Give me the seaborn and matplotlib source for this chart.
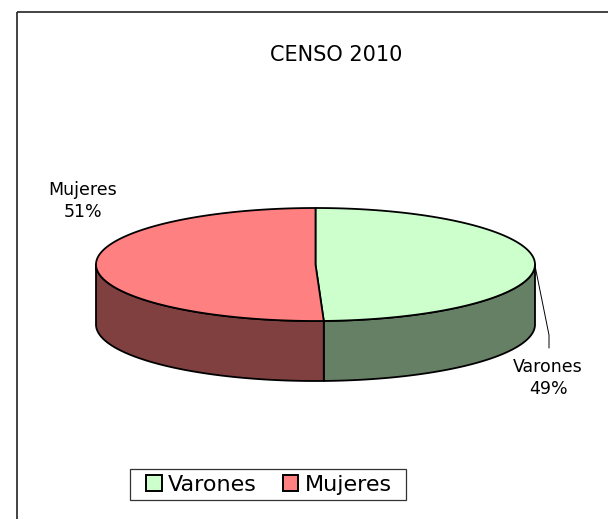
import numpy as np
import matplotlib
matplotlib.use("Agg")
import matplotlib.pyplot as plt
from matplotlib.patches import Polygon, Rectangle, Patch
import seaborn as sns

# datos del grafico
titulo = "CENSO 2010"
categorias = ["Varones", "Mujeres"]
valores = [49.4, 50.6]
colores_tapa = ["#CCFFCC", "#FF8080"]
colores_lado = ["#668066", "#804040"]

sns.set_theme(style="white")
plt.rcParams["font.family"] = ["DejaVu Sans"]
plt.rcParams["text.color"] = "black"

W, H = 608, 519
fig = plt.figure(figsize=(W / 100, H / 100), dpi=100)
ax = fig.add_axes([0, 0, 1, 1])
ax.set_xlim(0, W)
ax.set_ylim(H, 0)
ax.axis("off")

# marco del area del grafico
ax.add_patch(Rectangle((17, 12), W, H, fill=False, edgecolor="#222222", lw=1.2))

# geometria de la torta 3D
cx, cy, a, b, prof = 315.5, 264.5, 219.5, 56.5, 60


def punto(theta, dy=0.0):
    t = np.radians(theta)
    return cx + a * np.cos(t), cy - b * np.sin(t) + dy


total = sum(valores)
inicio = 90.0
porciones = []
for v in valores:
    fin = inicio - 360.0 * v / total
    porciones.append((inicio, fin))
    inicio = fin

# caras laterales (solo la mitad frontal es visible)
for (t1, t2), col in zip(porciones, colores_lado):
    for k in (-360, 0, 360):
        lo, hi = max(t2, -180 + k), min(t1, k)
        if hi <= lo:
            continue
        ang = np.linspace(hi, lo, 120)
        arriba = [punto(t) for t in ang]
        abajo = [punto(t, prof) for t in ang[::-1]]
        ax.add_patch(Polygon(arriba + abajo, closed=True, facecolor=col,
                             edgecolor="black", lw=1.3, joinstyle="round"))

# tapas
for (t1, t2), col in zip(porciones, colores_tapa):
    ang = np.linspace(t1, t2, 200)
    pts = [(cx, cy)] + [punto(t) for t in ang]
    ax.add_patch(Polygon(pts, closed=True, facecolor=col,
                         edgecolor="black", lw=1.3, joinstyle="round"))

# titulo
ax.text(336, 55, titulo, ha="center", va="center", fontsize=15)

# etiquetas de datos
pct = [f"{round(v / total * 100)}%" for v in valores]
ax.text(83, 201, f"{categorias[1]}\n{pct[1]}", ha="center", va="center",
        fontsize=12.5, linespacing=1.25)
ax.text(548, 378, f"{categorias[0]}\n{pct[0]}", ha="center", va="center",
        fontsize=12.5, linespacing=1.25)

# linea guia de Varones
x0, y0 = punto(-1)
ax.plot([x0, 549, 549], [y0, 335, 348], color="black", lw=0.7)

# leyenda (marco dibujado aparte)
ax.add_patch(Rectangle((130, 469), 276, 31, fill=False, edgecolor="#333333", lw=0.9))
handles = [Patch(facecolor=c, edgecolor="black", lw=1.4) for c in colores_tapa]
leg = fig.legend(handles, categorias, loc="center", bbox_to_anchor=(269 / W, 1 - 485 / H),
                 ncol=2, fontsize=16, frameon=False,
                 handlelength=0.7, handleheight=0.7, handletextpad=0.3,
                 columnspacing=1.15, borderpad=0.2, borderaxespad=0)

fig.savefig("out.png", dpi=100)
